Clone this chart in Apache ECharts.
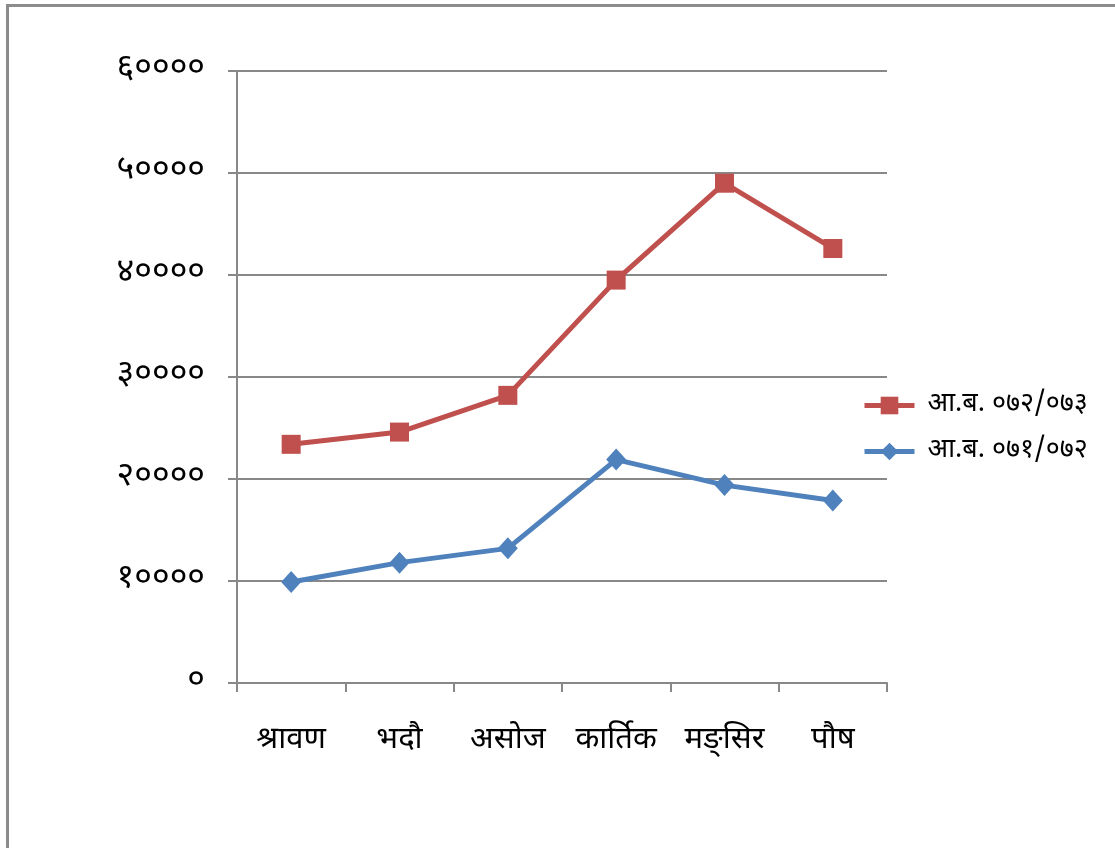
<!DOCTYPE html>
<html>
<head>
<meta charset="utf-8">
<script src="https://cdn.jsdelivr.net/npm/echarts@6/dist/echarts.min.js"></script>
<style>
html,body{margin:0;padding:0;background:#fff;}
#chart{width:1115px;height:848px;}
</style>
</head>
<body>
<div id="chart"></div>
<script>
const categories = ['श्रावण', 'भदौ', 'असोज', 'कार्तिक', 'मङ्सिर', 'पौष'];
const seriesNames = ['आ.ब. ०७२/०७३', 'आ.ब. ०७१/०७२'];
const values072 = [23400, 24600, 28200, 39500, 49000, 42600];
const values071 = [9900, 11800, 13200, 21900, 19400, 17900];
const devDigits = ['०','१','२','३','४','५','६','७','८','९'];
function toDev(n){ return String(n).split('').map(c => devDigits[+c] ?? c).join(''); }

const chart = echarts.init(document.getElementById('chart'));
const fontFam = '"Noto Sans Devanagari","Lohit Devanagari","Mangal","Noto Sans","DejaVu Sans",sans-serif';
chart.setOption({
  animation: false,
  backgroundColor: '#fff',
  textStyle: { fontFamily: fontFam },
  graphic: [{
    type: 'rect', silent: true,
    shape: { x: 7.5, y: 5.5, width: 1200, height: 1000 },
    style: { fill: 'none', stroke: '#8c8c8c', lineWidth: 3 }
  }],
  grid: { left: 237, right: 228, top: 71, bottom: 165, containLabel: false },
  legend: {
    orient: 'vertical',
    left: 857, top: 387,
    itemWidth: 50, itemHeight: 22, itemGap: 19,
    lineStyle: { width: 5 },
    textStyle: { fontSize: 27, color: '#000', fontFamily: fontFam, padding: [0,0,0,8] },
    data: [seriesNames[0], seriesNames[1]]
  },
  xAxis: {
    type: 'category',
    data: categories,
    boundaryGap: true,
    axisLine: { lineStyle: { color: '#888', width: 2 } },
    axisTick: { show: true, length: 9, lineStyle: { color: '#888', width: 2 } },
    axisLabel: { color: '#000', fontSize: 31, margin: 44, fontFamily: fontFam },
    splitLine: { show: false }
  },
  yAxis: {
    type: 'value',
    min: 0, max: 60000, interval: 10000,
    axisLine: { show: true, lineStyle: { color: '#888', width: 2 } },
    axisTick: { show: true, length: 9, lineStyle: { color: '#888', width: 2 } },
    axisLabel: { color: '#000', fontSize: 34, margin: 32, formatter: v => toDev(v), fontFamily: fontFam, padding: [16,0,0,0] },
    splitLine: { show: true, lineStyle: { color: '#888', width: 2 } }
  },
  series: [
    {
      name: seriesNames[0], type: 'line', data: values072,
      symbol: 'rect', symbolSize: 19,
      lineStyle: { color: '#C0504D', width: 5 },
      itemStyle: { color: '#C0504D' }
    },
    {
      name: seriesNames[1], type: 'line', data: values071,
      symbol: 'diamond', symbolSize: [20, 22],
      lineStyle: { color: '#4F81BD', width: 5 },
      itemStyle: { color: '#4F81BD' }
    }
  ]
});
</script>
</body>
</html>
